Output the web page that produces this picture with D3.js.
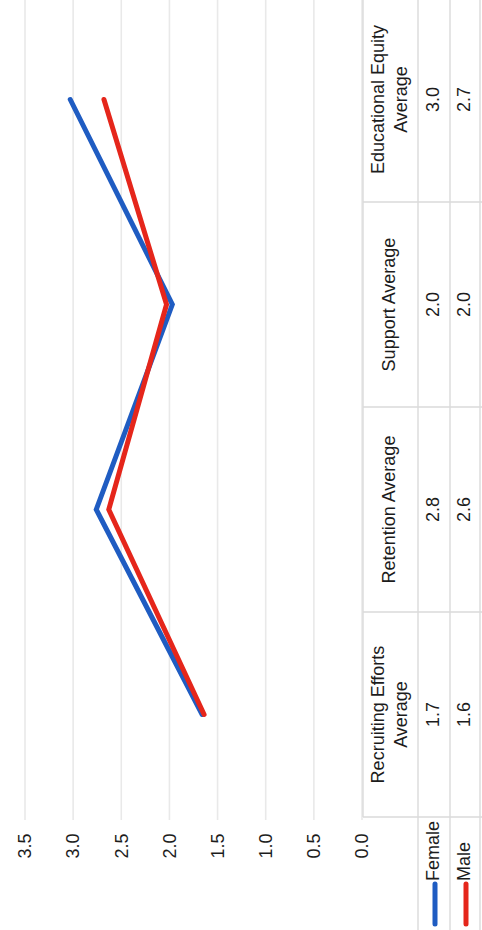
<!DOCTYPE html>
<html>
<head>
<meta charset="utf-8">
<script src="https://cdn.jsdelivr.net/npm/d3@7"></script>
<style>
  html, body { margin: 0; padding: 0; background: #fff; }
  svg { display: block; }
  text { font-family: "Liberation Sans", Arial, sans-serif; fill: #1c1c1c; }
</style>
</head>
<body>
<script>
// Category names (one array entry per table column, lines split for wrapping)
const categories = [
  ["Recruiting Efforts", "Average"],
  ["Retention Average"],
  ["Support Average"],
  ["Educational Equity", "Average"]
];
// Averages by gender (table shows them to one decimal)
const female = [1.66, 2.76, 1.97, 3.03];
const male   = [1.64, 2.63, 2.03, 2.68];
const seriesNames = ["Female", "Male"];
const seriesColors = ["#1f5cc2", "#e5261b"];
const valueTicks = [0, 0.5, 1.0, 1.5, 2.0, 2.5, 3.0, 3.5];

const W = 482, H = 930;
const svg = d3.select("body").append("svg")
  .attr("width", W).attr("height", H);

// The chart is laid out in a 930 x 482 frame and turned a quarter turn
const g = svg.append("g").attr("transform", `translate(0,${H}) rotate(-90)`);

const fmt = d3.format(".1f");
const y = d3.scaleLinear().domain([0, 3.5]).range([362, 25]);
const x = d3.scaleBand().domain(d3.range(categories.length)).range([113, 933]).padding(0);
const cx = i => x(i) + x.bandwidth() / 2;

// gridlines
g.append("g").selectAll("line").data(valueTicks).join("line")
  .attr("x1", 110).attr("x2", 930)
  .attr("y1", d => y(d)).attr("y2", d => y(d))
  .attr("stroke", "#e9e9e9").attr("stroke-width", 1.6);

// value axis labels
const yAxis = d3.axisLeft(y).tickValues(valueTicks).tickFormat(fmt).tickSize(0).tickPadding(0);
const ya = g.append("g").attr("transform", "translate(97,0)").call(yAxis);
ya.select(".domain").remove();
ya.selectAll("text")
  .attr("x", 0).attr("text-anchor", "middle")
  .attr("font-size", 18).attr("font-family", "Liberation Sans, Arial, sans-serif")
  .attr("fill", "#1c1c1c");
ya.attr("transform", "translate(84,0)");

// data table grid
const tableLines = g.append("g").attr("stroke", "#dadada").attr("stroke-width", 1.4);
tableLines.append("line").attr("x1", 113).attr("x2", 930).attr("y1", 363).attr("y2", 363);
[418, 450, 480].forEach(v => {
  tableLines.append("line").attr("x1", 0).attr("x2", 930).attr("y1", v).attr("y2", v);
});
d3.range(categories.length + 1).forEach(i => {
  const xx = i < categories.length ? x(i) : x(categories.length - 1) + x.bandwidth();
  tableLines.append("line").attr("x1", xx).attr("x2", xx).attr("y1", 363).attr("y2", 482);
});

// category headers
categories.forEach((lines, i) => {
  const base = lines.length === 1 ? [395] : [384, 407];
  lines.forEach((t, k) => {
    g.append("text").attr("x", cx(i)).attr("y", base[k])
      .attr("text-anchor", "middle").attr("font-size", 18).text(t);
  });
});

// table values and legend keys
const series = [female, male];
const rowBase = [439, 470];
series.forEach((vals, s) => {
  vals.forEach((v, i) => {
    g.append("text").attr("x", cx(i)).attr("y", rowBase[s])
      .attr("text-anchor", "middle").attr("font-size", 18).text(fmt(v));
  });
  const ky = rowBase[s] - 4;
  g.append("line").attr("x1", 6).attr("x2", 46).attr("y1", ky).attr("y2", ky)
    .attr("stroke", seriesColors[s]).attr("stroke-width", 5).attr("stroke-linecap", "round");
  g.append("text").attr("x", 49).attr("y", rowBase[s])
    .attr("font-size", 18).text(seriesNames[s]);
});

// lines
const line = d3.line().x((d, i) => cx(i)).y(d => y(d));
series.forEach((vals, s) => {
  g.append("path").datum(vals).attr("d", line)
    .attr("fill", "none").attr("stroke", seriesColors[s])
    .attr("stroke-width", 5).attr("stroke-linecap", "round").attr("stroke-linejoin", "miter");
});
</script>
</body>
</html>
